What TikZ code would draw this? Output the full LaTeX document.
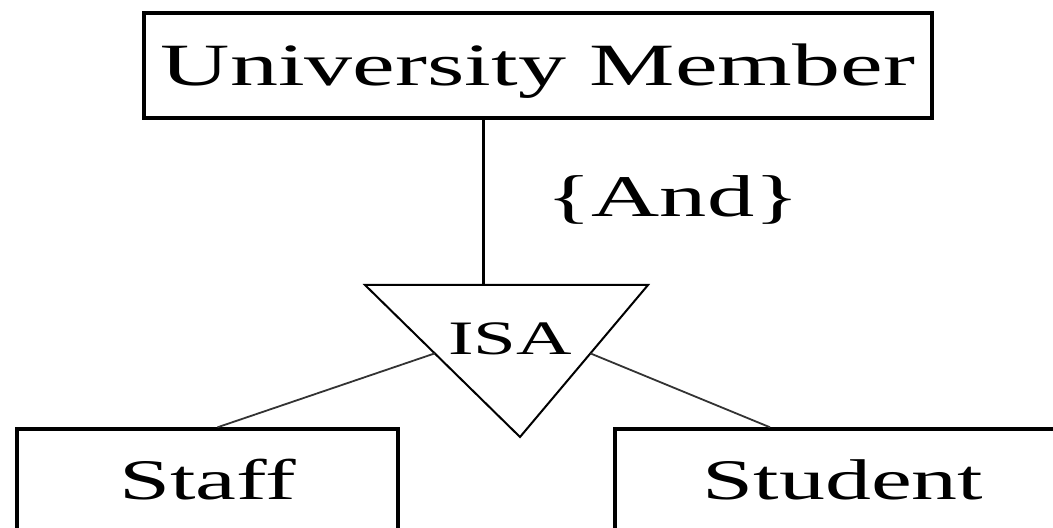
\documentclass[tikz,border=0pt]{standalone}
\usepackage{fontspec}
\setmainfont[FakeStretch=1.6]{Liberation Serif}
\usetikzlibrary{calc}

\begin{document}
\begin{tikzpicture}[x=0.5pt, y=-0.5pt,
  entity/.style={rectangle, draw, line width=1.7pt, inner sep=0pt,
    minimum height=51pt, text height=19pt, text depth=0pt,
    font=\fontsize{28.7}{34}\selectfont},
  isa/.style={inner sep=0pt, font=\fontsize{24}{28}\selectfont},
  note/.style={inner sep=0pt, font=\fontsize{29.5}{34}\selectfont},
  link/.style={line width=0.9pt, black!80}
]
\useasboundingbox (0,0) rectangle (1053,528);

% Entities
\node[entity, minimum width=394pt, minimum height=52.5pt, text height=20pt,
  font=\fontsize{30}{36}\selectfont] (member) at (538,65.5) {University Member};
\node[entity, minimum width=190.5pt] (staff) at (207.5,480) {Staff};
\node[entity, minimum width=228pt] (student) at (843,480) {Student};

% ISA triangle
\coordinate (tl) at (365,285);
\coordinate (tr) at (648,285);
\coordinate (tip) at (520,437);
\coordinate (hook) at (483,285);
\draw[line width=1pt] (tl) -- (tr) -- (tip) -- cycle;
\node[isa, anchor=base] (isa) at (510,355) {ISA};
\node[note, anchor=base] (andlbl) at (673,217) {\{And\}};

% Links
\coordinate (isaW) at ($(tl)!0.45!(tip)$);
\coordinate (isaE) at ($(tr)!0.45!(tip)$);
\draw[line width=1.5pt] (member.south -| hook) -- (hook);
\draw[link] (isaW) -- ([xshift=5pt]staff.north);
\draw[link] (isaE) -- ([xshift=-36.5pt]student.north);
\end{tikzpicture}
\end{document}
